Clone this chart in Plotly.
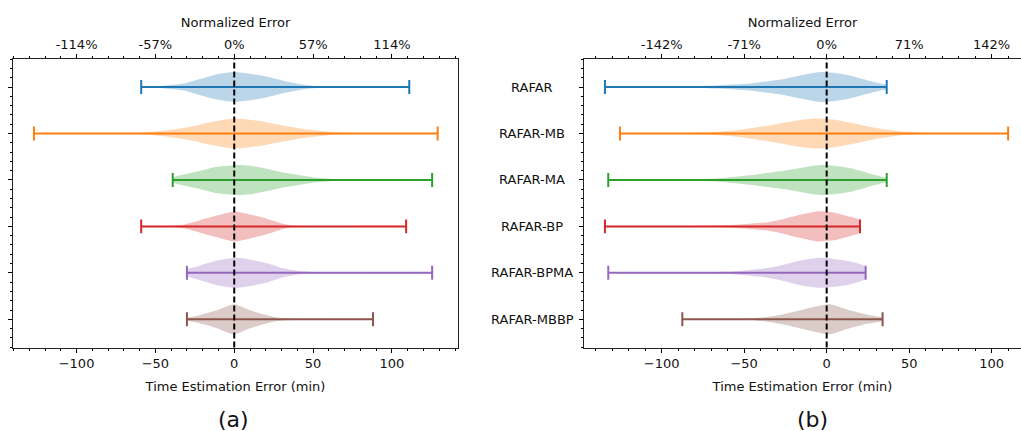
import plotly.graph_objects as go

# ---------------- data ----------------
METHODS = ["RAFAR", "RAFAR-MB", "RAFAR-MA", "RAFAR-BP", "RAFAR-BPMA", "RAFAR-MBBP"]
COLORS = ["#1f77b4", "#ff7f0e", "#2ca02c", "#d62728", "#9467bd", "#8c564b"]
FILLS = ["rgba(31,119,180,0.3)", "rgba(255,127,14,0.3)", "rgba(44,160,44,0.3)",
         "rgba(214,39,40,0.3)", "rgba(148,103,189,0.3)", "rgba(140,86,75,0.3)"]

# panel (a): min / max error (min)
A_MIN = [-59, -127, -39, -59, -30, -30]
A_MAX = [111, 129, 125.5, 109, 125.5, 88]
# panel (b)
B_MIN = [-134.4, -125.3, -132.4, -134.4, -132.4, -87.5]
B_MAX = [36.4, 110, 36.4, 20.2, 23.6, 33.9]

# violin density profiles: x positions (min) and relative half widths
A_VX = [
    [-59, -45, -32, -22, -11, 0, 10, 21, 31, 42, 52, 65, 111],
    [-127, -75, -60, -45, -30, -15, 0, 15, 30, 45, 60, 75, 95, 129],
    [-39, -36, -22, -11, 3, 10, 21, 31, 42, 52, 65, 80, 125.5],
    [-59, -40, -32, -22, -11, 0, 10, 21, 31, 37, 50, 109],
    [-30, -22, -11, 2, 10, 21, 31, 42, 55, 125.5],
    [-30, -22, -11, 0, 10, 21, 27, 40, 88],
]
A_VW = [
    [0.01, 0.08, 0.23, 0.53, 0.84, 1.0, 0.89, 0.68, 0.42, 0.19, 0.07, 0.02, 0.01],
    [0.01, 0.02, 0.05, 0.18, 0.40, 0.75, 1.0, 0.85, 0.55, 0.28, 0.12, 0.04, 0.01, 0.01],
    [0.18, 0.27, 0.60, 0.88, 1.0, 0.95, 0.73, 0.50, 0.32, 0.16, 0.05, 0.02, 0.01],
    [0.01, 0.04, 0.13, 0.40, 0.72, 1.0, 0.80, 0.50, 0.17, 0.06, 0.02, 0.01],
    [0.25, 0.48, 0.82, 1.0, 0.88, 0.64, 0.30, 0.10, 0.03, 0.01],
    [0.10, 0.27, 0.60, 1.0, 0.60, 0.27, 0.12, 0.03, 0.01],
]
B_VX = [
    [-134.4, -90, -67, -46.5, -26, -16, -4, 4, 14, 24, 34, 36.4],
    [-125.3, -80, -57, -36, -16, -6, 4, 14, 24, 34, 44, 60, 80, 110],
    [-132.4, -90, -67, -46.5, -26, -16, -4, 4, 14, 24, 34, 36.4],
    [-134.4, -80, -57, -36, -26, -16, -6, 4, 14, 20.2],
    [-132.4, -80, -57, -36, -26, -16, -4, 4, 14, 23.6],
    [-87.5, -60, -46.5, -36, -26, -16, -6, 2, 14, 24, 33.9],
]
B_VW = [
    [0.01, 0.03, 0.10, 0.23, 0.53, 0.77, 1.0, 0.95, 0.77, 0.47, 0.20, 0.15],
    [0.01, 0.05, 0.18, 0.51, 0.90, 1.0, 0.93, 0.73, 0.50, 0.29, 0.14, 0.04, 0.01, 0.01],
    [0.01, 0.03, 0.10, 0.32, 0.61, 0.80, 1.0, 0.95, 0.80, 0.50, 0.20, 0.15],
    [0.01, 0.03, 0.09, 0.28, 0.50, 0.78, 1.0, 0.93, 0.65, 0.43],
    [0.01, 0.03, 0.09, 0.32, 0.54, 0.82, 1.0, 0.93, 0.77, 0.40],
    [0.01, 0.02, 0.05, 0.16, 0.34, 0.60, 0.87, 1.0, 0.60, 0.32, 0.10],
]

TICK_MIN = [-100, -50, 0, 50, 100]
BOTTOM_LABELS = ["\u2212100", "\u221250", "0", "50", "100"]
A_TOP_LABELS = ["-114%", "-57%", "0%", "57%", "114%"]
B_TOP_LABELS = ["-142%", "-71%", "0%", "71%", "142%"]
ZERO_REF = 0

# ---------------- style ----------------
HALF = 0.323     # violin max half width (category units)
CAP = 0.15       # error-bar cap half height
FONT = "DejaVu Sans"
W, H = 1021, 431

fig = go.Figure()


def add_panel(xa, ya, mins, maxs, vx, vw):
    for i in range(len(METHODS)):
        pos = i + 1
        xs = list(vx[i]) + list(reversed(vx[i]))
        ys = [pos - w * HALF for w in vw[i]] + [pos + w * HALF for w in reversed(vw[i])]
        fig.add_trace(go.Scatter(x=xs, y=ys, xaxis=xa, yaxis=ya, mode="lines",
                                 fill="toself", fillcolor=FILLS[i],
                                 line=dict(width=0, shape="spline", smoothing=0.6),
                                 hoverinfo="skip", showlegend=False))
    for i in range(len(METHODS)):
        pos = i + 1
        lo, hi = mins[i], maxs[i]
        fig.add_trace(go.Scatter(
            x=[lo, hi, None, lo, lo, None, hi, hi],
            y=[pos, pos, None, pos - CAP, pos + CAP, None, pos - CAP, pos + CAP],
            xaxis=xa, yaxis=ya, mode="lines",
            line=dict(color=COLORS[i], width=2), hoverinfo="skip", showlegend=False))


add_panel("x", "y", A_MIN, A_MAX, A_VX, A_VW)
add_panel("x2", "y2", B_MIN, B_MAX, B_VX, B_VW)
# dummy traces so the top axes are drawn
fig.add_trace(go.Scatter(x=[None], y=[None], xaxis="x3", yaxis="y", showlegend=False))
fig.add_trace(go.Scatter(x=[None], y=[None], xaxis="x4", yaxis="y2", showlegend=False))

for xr in ["x", "x2"]:
    fig.add_shape(type="line", xref=xr, yref=("y" if xr == "x" else "y2") + " domain",
                  x0=ZERO_REF, x1=ZERO_REF, y0=0, y1=1,
                  line=dict(color="black", width=2, dash="6px,3px"))

A_DOM = [13 / W, 458 / W]
B_DOM = [584 / W, 1.0]
Y_DOM = [1 - 347.5 / H, 1 - 59 / H]
A_RANGE = [-140.3, 141.9]
B_RANGE = [-147.1, 117.8]
Y_RANGE = [6.607, 0.397]

tickfont = dict(family=FONT, size=13, color="#111")
titlefont = dict(family=FONT, size=13, color="#111")


def xaxis(dom, rng, labels, anchor, side="bottom", overlay=None, title=None, standoff=8):
    d = dict(domain=dom, range=rng, anchor=anchor, side=side,
             tickmode="array", tickvals=TICK_MIN, ticktext=labels,
             ticks="outside", ticklen=4, tickwidth=1, tickcolor="black",
             minor=dict(ticks="outside", ticklen=2, tickcolor="black",
                        tickmode="linear", tick0=0, dtick=10),
             showline=True, linecolor="#222", linewidth=1.4,
             showgrid=False, zeroline=False, tickfont=tickfont,
             title=dict(text=title, font=titlefont, standoff=standoff))
    if overlay:
        d["overlaying"] = overlay
    return d


def yaxis(dom, mirror):
    return dict(domain=dom, range=Y_RANGE, anchor=None,
                tickmode="array", tickvals=list(range(1, len(METHODS) + 1)),
                ticktext=["" for _ in METHODS],
                ticks="outside", ticklen=4, tickcolor="black",
                minor=dict(ticks="outside", ticklen=2, tickcolor="black",
                           tickmode="linear", tick0=0, dtick=0.2),
                showline=True, linecolor="#222", linewidth=1.4, mirror=mirror,
                showgrid=False, zeroline=False)


ya = yaxis(Y_DOM, True)
ya["anchor"] = "x"
yb = yaxis(Y_DOM, False)
yb["anchor"] = "x2"

fig.update_layout(
    width=W, height=H, margin=dict(l=0, r=0, t=0, b=0),
    paper_bgcolor="white", plot_bgcolor="white", showlegend=False,
    xaxis=xaxis(A_DOM, A_RANGE, BOTTOM_LABELS, "y", title="Time Estimation Error (min)",
                standoff=11),
    xaxis3=xaxis(A_DOM, A_RANGE, A_TOP_LABELS, "y", side="top", overlay="x",
                 title="Normalized Error", standoff=6),
    xaxis2=xaxis(B_DOM, B_RANGE, BOTTOM_LABELS, "y2", title="Time Estimation Error (min)",
                 standoff=11),
    xaxis4=xaxis(B_DOM, B_RANGE, B_TOP_LABELS, "y2", side="top", overlay="x2",
                 title="Normalized Error", standoff=6),
    yaxis=ya, yaxis2=yb,
)

# centred category labels for panel (b)
for i, name in enumerate(METHODS):
    fig.add_annotation(text=name, xref="paper", yref="y2", x=532 / W, y=i + 1,
                       xanchor="center", yanchor="middle", showarrow=False,
                       font=dict(family=FONT, size=13, color="#111"))

for label, cx in [("(a)", 233), ("(b)", 812)]:
    fig.add_annotation(text=label, xref="paper", yref="paper", x=cx / W, y=1 - 419 / H,
                       xanchor="center", yanchor="middle", showarrow=False,
                       font=dict(family=FONT, size=22, color="#111"))

fig.write_html("out.html")
